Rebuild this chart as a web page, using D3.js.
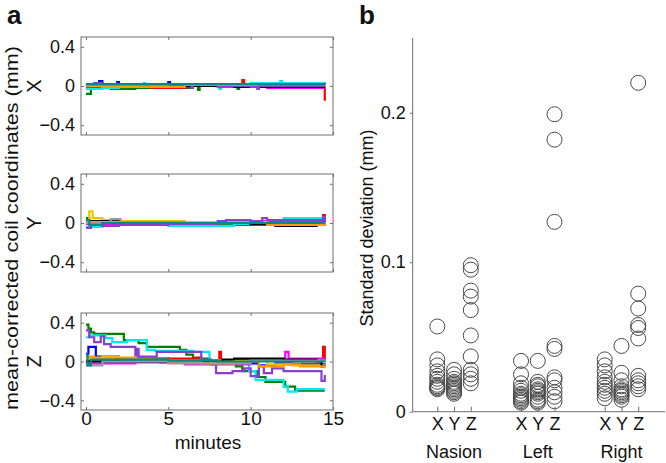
<!DOCTYPE html>
<html><head><meta charset="utf-8">
<script src="https://cdn.jsdelivr.net/npm/d3@7"></script>
<style>body{margin:0;background:#fff}svg{display:block;font-family:"Liberation Sans",Arial,sans-serif}</style>
</head><body><svg id="c" width="666" height="463"></svg>
<script>
// ---------- Panel a data: step traces [minute, value] ----------
const traceColors = ["#0000ff","#007f00","#ff0000","#00e8f0","#ff00ff","#f2c200","#000000","#8a3fcf","#ff9a00","#9a9a9a","#008b8b"];
const traceNames  = ["blue","green","red","cyan","magenta","yellow","black","purple","orange","gray","teal"];

const tracesX = [
  [[0,0.02],[0.8,0.05],[1.0,0.01],[1.9,0.04],[2.0,0.02],[3,0.01],[5,0.04],[5.1,0.02],[8,0],[10,-0.01],[12,0.01],[14,-0.01],[14.5,-0.01]],
  [[0,-0.08],[0.3,-0.02],[1.5,-0.03],[3,-0.02],[6.5,0.02],[6.8,-0.04],[6.9,0.01],[9.2,-0.03],[9.3,0.02],[11,0.02],[12.5,0.03],[14.5,0.02]],
  [[0,0],[3,0],[4,-0.02],[6,0],[9,0.01],[9.5,0.06],[9.6,0],[13,0],[14.4,-0.02],[14.5,-0.15]],
  [[0,-0.03],[1,-0.02],[2,-0.01],[3.5,0.03],[3.6,-0.01],[5,0],[7,0.02],[8.1,-0.03],[8.2,0.02],[10,0.03],[11.8,0.05],[11.9,0.03],[14.5,0.04]],
  [[0,0],[3,0.01],[8,-0.01],[11,-0.02],[13,-0.02],[14.5,0]],
  [[0,0.01],[2,0.01],[7,0],[12,0.02],[14.5,0.03]],
  [[0,0],[1.5,0.02],[2,0.01],[4,0],[9,-0.01],[14.5,-0.01]],
  [[0,-0.01],[0.5,0.03],[1,0.02],[2,0],[5,0.01],[6.4,-0.02],[6.5,0.01],[8,0],[10,-0.01],[10.4,-0.03],[10.5,0],[13,0],[14.5,0]],
  [[0,0],[4,-0.01],[6,0.01],[10,0.02],[14.5,0.01]],
  [[0,0.01],[5,0.02],[14.5,0.02]],
  [[0,0.02],[14.5,0.03]]
];
const tracesY = [
  [[0,0.01],[3,-0.01],[7.5,0.01],[12,0.01],[14.5,0.02]],
  [[0,0.05],[0.2,0],[3,0.01],[7,-0.01],[8.5,-0.02],[11,0],[14.5,0.01]],
  [[0,0],[4,0.01],[6.5,-0.02],[7,0],[14.2,0.02],[14.4,0.08],[14.5,0.03]],
  [[0,-0.04],[1,-0.01],[3,-0.02],[5,-0.03],[9,-0.01],[11.5,0.03],[12,0.05],[14.5,0.05]],
  [[0,-0.01],[4,0.01],[9,0.02],[14.5,0.02]],
  [[0,0.03],[0.2,0.12],[0.4,0.05],[1,0.03],[1.8,0.02],[6,0.01],[11,-0.02],[14.5,0]],
  [[0,0.02],[2,-0.01],[7,0],[10,-0.01],[11.5,-0.03],[14,-0.02],[14.5,0]],
  [[0,-0.05],[0.3,-0.02],[1,-0.03],[2,-0.02],[5,-0.01],[8,0.02],[8.5,0.03],[10,0.02],[10.7,0.05],[11,0.03],[14,0.03],[14.4,0.06],[14.5,0.02]],
  [[0,0.01],[5,0],[11,-0.02],[14.5,0.01]],
  [[0,0],[1.5,0.04],[2.1,0.01],[6,0],[14.5,0.01]],
  [[0,0.03],[0.2,-0.02],[1,0],[14.5,0]]
];
const tracesZ = [
  [[0,0.08],[0.15,0.15],[0.6,0.05],[2,0.03],[5,0.01],[9.5,-0.02],[10.5,-0.04],[11.5,-0.02],[12.5,-0.03],[14.5,-0.02]],
  [[0,0.38],[0.15,0.34],[0.3,0.3],[0.5,0.285],[2.3,0.22],[3.2,0.19],[3.7,0.15],[5.7,0.12],[6.1,0.07],[6.5,0.03],[7.5,0.01],[9.1,-0.05],[9.5,-0.1],[10.4,-0.16],[10.9,-0.21],[12.1,-0.26],[12.7,-0.3],[14.5,-0.3]],
  [[0,0.01],[2,0],[3,0.02],[4.5,-0.01],[5,0.03],[6.5,0.04],[7,0],[8.1,0.1],[8.2,0.01],[12,0],[14.3,0.02],[14.4,0.15],[14.5,0.02]],
  [[0,0.25],[0.2,0.27],[1.2,0.24],[1.6,0.2],[2.5,0.22],[3.7,0.12],[4.2,0.11],[6.5,0.1],[7.5,0],[9.9,-0.1],[10.3,-0.19],[12,-0.26],[12.25,-0.31],[12.8,-0.285],[14.5,-0.285]],
  [[0,-0.02],[3,-0.01],[6,-0.03],[10,0.02],[12.1,0.1],[12.3,0.03],[14.5,0.01]],
  [[0,0.04],[1,0.05],[2,0.02],[4,0.01],[7,0.01],[11,-0.03],[12.5,-0.04],[14.5,-0.03]],
  [[0,0],[1.8,0.03],[2,0],[8.3,0.02],[9,0.03],[12,0.02],[14,0],[14.3,-0.05],[14.5,-0.05]],
  [[0,0.32],[0.2,0.25],[0.5,0.2],[0.9,0.26],[1.1,0.18],[1.5,0.15],[3,0.06],[3.1,0.13],[3.2,0.05],[4.3,0.1],[7,0.02],[7.6,-0.03],[7.9,-0.12],[8.9,-0.1],[9.6,-0.07],[10,-0.15],[10.5,-0.05],[10.8,-0.12],[11.3,-0.07],[12,-0.1],[14.2,-0.1],[14.3,-0.2],[14.5,-0.14]],
  [[0,0.05],[0.5,0.03],[1.5,0.04],[3,0.02],[5,0],[7,-0.02],[9,0],[10.5,-0.05],[12,-0.03],[13,-0.05],[14.5,-0.07]],
  [[0,-0.04],[1,0],[5,-0.02],[10,0.01],[14.5,0]],
  [[0,0.07],[0.1,-0.04],[0.3,0.02],[5,0.01],[8,0],[14.5,0.01]]
];
const axisNamesA = ["X","Y","Z"];
const yTicksA = [-0.4, 0, 0.4];
const xTicksA = [0, 5, 10, 15];

// ---------- Panel b data: standard deviations (mm) ----------
const coils = ["Nasion","Left","Right"];
const dims = ["X","Y","Z"];
const sdNasionX = [0.057,0.035,0.031,0.027,0.024,0.022,0.020,0.018,0.017,0.016,0.015,0.016];
const sdNasionY = [0.028,0.025,0.022,0.020,0.018,0.017,0.016,0.015,0.014,0.013,0.012,0.019];
const sdNasionZ = [0.098,0.095,0.081,0.077,0.068,0.051,0.037,0.028,0.025,0.022,0.019];
const sdLeftX = [0.034,0.025,0.019,0.016,0.014,0.012,0.011,0.010,0.009,0.008,0.007,0.006];
const sdLeftY = [0.034,0.020,0.018,0.017,0.015,0.014,0.013,0.012,0.010,0.008,0.007,0.006];
const sdLeftZ = [0.199,0.182,0.127,0.044,0.042,0.023,0.021,0.016,0.013,0.010,0.007];
const sdRightX = [0.035,0.031,0.027,0.023,0.020,0.018,0.016,0.014,0.012,0.009];
const sdRightY = [0.044,0.026,0.021,0.017,0.015,0.014,0.013,0.012,0.011,0.010,0.008];
const sdRightZ = [0.220,0.079,0.069,0.058,0.056,0.049,0.024,0.021,0.019,0.017,0.015];
const yTicksB = [0, 0.1, 0.2];

const svg = d3.select("#c");
const frameCol = "#6e6e6e";

// ---------- Panel a ----------
const ax = {left:81, right:333};
const panelsA = [
  {top:37, bottom:135, data:tracesX},
  {top:174, bottom:272, data:tracesY},
  {top:313, bottom:410, data:tracesZ}
];
const xA = d3.scaleLinear().domain([-0.3, 15]).range([ax.left, ax.right]);
svg.append("defs").selectAll("clipPath").data(panelsA).join("clipPath")
  .attr("id",(d,i)=>"clipA"+i)
  .append("rect").attr("x",ax.left).attr("y",d=>d.top).attr("width",ax.right-ax.left).attr("height",d=>d.bottom-d.top);

panelsA.forEach((p,i)=>{
  const y = d3.scaleLinear().domain([-0.5,0.5]).range([p.bottom,p.top]);
  const g = svg.append("g");
  const lineGen = d3.line().x(d=>xA(d[0])).y(d=>y(d[1])).curve(d3.curveStepAfter);
  g.append("g").attr("clip-path",`url(#clipA${i})`).selectAll("path").data(p.data).join("path")
    .attr("d",lineGen).attr("fill","none")
    .attr("stroke",(d,k)=>traceColors[k]).attr("stroke-width",2.2);
  g.append("rect").attr("x",ax.left).attr("y",p.top).attr("width",ax.right-ax.left).attr("height",p.bottom-p.top)
    .attr("fill","none").attr("stroke",frameCol).attr("stroke-width",1);
  const yl = g.append("g").attr("transform",`translate(${ax.left},0)`)
    .call(d3.axisLeft(y).tickValues(yTicksA).tickSize(-3).tickPadding(6).tickFormat(d=>d===0?"0":d3.format(".1f")(d)));
  const yr = g.append("g").attr("transform",`translate(${ax.right},0)`)
    .call(d3.axisRight(y).tickValues(yTicksA).tickSize(-3).tickFormat(""));
  const xb = g.append("g").attr("transform",`translate(0,${p.bottom})`)
    .call(d3.axisBottom(xA).tickValues(xTicksA).tickSize(-3).tickPadding(1).tickFormat(i===2?d3.format("d"):""));
  const xt = g.append("g").attr("transform",`translate(0,${p.top})`)
    .call(d3.axisTop(xA).tickValues(xTicksA).tickSize(-3).tickFormat(""));
  [yl,yr,xb,xt].forEach(a=>{a.select(".domain").remove(); a.selectAll("line").attr("stroke",frameCol);});
  yl.selectAll("text").attr("font-size",18).attr("fill","#111").attr("font-family","Liberation Sans, Arial");
  xb.selectAll("text").attr("font-size",19).attr("fill","#111").attr("font-family","Liberation Sans, Arial");
  const cy = (p.top+p.bottom)/2;
  svg.append("text").attr("transform",`translate(41,${cy}) rotate(-90)`).attr("text-anchor","middle")
    .attr("font-size",20).attr("fill","#111").text(axisNamesA[i]);
});
svg.append("text").attr("x",(ax.left+ax.right)/2+1).attr("y",449).attr("text-anchor","middle")
  .attr("font-size",19).attr("fill","#111").text("minutes");
svg.append("text").attr("transform","translate(18,228) rotate(-90)").attr("text-anchor","middle")
  .attr("font-size",18).attr("fill","#111").attr("textLength",364).attr("lengthAdjust","spacingAndGlyphs")
  .text("mean-corrected coil coordinates (mm)");
svg.append("text").attr("x",7).attr("y",24).attr("font-size",26).attr("font-weight","bold").attr("fill","#111").text("a");

// ---------- Panel b ----------
const bx = {left:412.7, right:665, top:38, bottom:411.7};
const xB = d3.scaleLinear().domain([-0.47, 14.6]).range([bx.left, bx.right]);
const yB = d3.scaleLinear().domain([0, 0.25]).range([bx.bottom, bx.top]);
const sdGroups = [sdNasionX,sdNasionY,sdNasionZ,sdLeftX,sdLeftY,sdLeftZ,sdRightX,sdRightY,sdRightZ];
const posOf = i => Math.floor(i/3)*5 + (i%3) + 1;
const pts = [];
sdGroups.forEach((arr,i)=>arr.forEach(v=>pts.push({x:posOf(i), v})));
svg.append("g").selectAll("circle").data(pts).join("circle")
  .attr("cx",d=>xB(d.x)).attr("cy",d=>yB(d.v)).attr("r",7.5)
  .attr("fill","none").attr("stroke","#4a4a4a").attr("stroke-width",1);

const ybAx = svg.append("g").attr("transform",`translate(${bx.left},0)`)
  .call(d3.axisLeft(yB).tickValues(yTicksB).tickSize(3).tickPadding(4).tickFormat(d=>d===0?"0":d3.format(".1f")(d)));
ybAx.select(".domain").attr("stroke",frameCol).attr("d",`M0,${bx.top}V${bx.bottom}`);
ybAx.selectAll("line").attr("stroke",frameCol);
ybAx.selectAll("text").attr("font-size",18).attr("fill","#111").attr("font-family","Liberation Sans, Arial");

const catPos = d3.range(9).map(posOf);
const xbAx = svg.append("g").attr("transform",`translate(0,${bx.bottom})`)
  .call(d3.axisBottom(xB).tickValues(catPos).tickSize(-5).tickPadding(6).tickFormat((d,i)=>dims[i%3]));
xbAx.select(".domain").attr("stroke",frameCol).attr("d",`M${bx.left},0H${bx.right}`);
xbAx.selectAll("line").attr("stroke",frameCol);
xbAx.selectAll("text").attr("font-size",18).attr("fill","#111").attr("font-family","Liberation Sans, Arial");

svg.append("g").selectAll("text").data(coils).join("text")
  .attr("x",(d,i)=>xB(i*5+2)).attr("y",458).attr("text-anchor","middle")
  .attr("font-size",18).attr("fill","#111").text(d=>d);
svg.append("text").attr("transform","translate(373,228) rotate(-90)").attr("text-anchor","middle")
  .attr("font-size",18).attr("fill","#111").text("Standard deviation (mm)");
svg.append("text").attr("x",359).attr("y",24).attr("font-size",26).attr("font-weight","bold").attr("fill","#111").text("b");
</script></body></html>
